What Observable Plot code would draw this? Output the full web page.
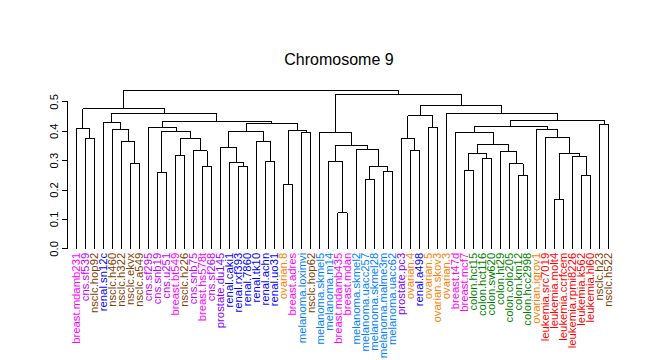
<!DOCTYPE html>
<html>
<head>
<meta charset="utf-8">
<script src="https://cdn.jsdelivr.net/npm/d3@7"></script>
<script src="https://cdn.jsdelivr.net/npm/@observablehq/plot@0.6"></script>
<style>
  html, body { margin: 0; padding: 0; background: #fff; }
  #wrap { position: relative; width: 647px; height: 360px; font-family: "Liberation Sans", Arial, sans-serif; }
  #title { position: absolute; left: 0; width: 678px; top: 51px; text-align: center; font-size: 16px; color: #000; line-height: 18px; }
  svg path, svg line { shape-rendering: crispEdges; }
</style>
</head>
<body>
<div id="wrap"><div id="title">Chromosome 9</div></div>
<script>
// Leaf labels in dendrogram order
const leaves = [
  "breast.mdamb231","cns.sf539","nsclc.hop92","renal.sn12c","nsclc.h460","nsclc.h322",
  "nsclc.ekvx","nsclc.a549","cns.sf295","cns.snb19","cns.u251","breast.bt549",
  "nsclc.h226","cns.snb75","breast.hs578t","cns.sf268","prostate.du145","renal.caki1",
  "renal.rxf393","renal.7860","renal.tk10","renal.achn","renal.uo31","ovarian.8",
  "breast.adres","melanoma.loximvi","nsclc.hop62","melanoma.skmel5","melanoma.m14","breast.mdamb435",
  "breast.mdan","melanoma.skmel2","melanoma.uacc257","melanoma.skmel28","melanoma.malme3m","melanoma.uacc62",
  "prostate.pc3","ovarian.4","renal.a498","ovarian.5","ovarian.skov3","ovarian.3",
  "breast.t47d","breast.mcf7","colon.hct15","colon.hct116","colon.sw620","colon.ht29",
  "colon.colo205","colon.km12","colon.hcc2998","ovarian.igrov1","leukemia.src7019","leukemia.molt4",
  "leukemia.ccrfcem","leukemia.rpmi8226","leukemia.k562","leukemia.hl60","nsclc.h23","nsclc.h522"
];

const groupNames  = ["breast","cns","nsclc","renal","prostate","ovarian","melanoma","colon","leukemia"];
const groupColors = ["#FF00FF","#BF00FF","#804000","#0000FF","#8000FF","#FF8000","#0080FF","#008000","#FF0000"];

// hclust-style merges: negative = leaf (1-based order), positive = earlier merge row
const mergeLeft  = [-2,-1,-7,-6,-5,-4,-10,-12,-15,-14,8,7,-9,-19,-18,-17,-22,-21,16,-24,-26,20,19,13,6,2,
                    -30,-29,-33,-35,29,-32,28,-28,-38,-37,-40,36,-44,-46,39,-50,-49,-48,41,-43,-54,-57,-56,47,-53,-52,46,-59,53,-42,38,34,26];
const mergeRight = [-3,1,-8,3,4,5,-11,-13,-16,9,10,11,12,-20,14,15,-23,17,18,-25,-27,21,22,23,24,25,
                    -31,27,-34,-36,30,31,32,33,-39,35,-41,37,-45,-47,40,-51,42,43,44,45,-55,-58,48,49,50,51,52,-60,54,55,56,57,58];
const mergeHeight = [0.374,0.410,0.289,0.364,0.407,0.429,0.259,0.316,0.279,0.333,0.374,0.400,0.412,0.280,0.295,0.343,0.297,0.365,0.399,0.218,0.395,0.401,0.425,0.432,0.459,0.476,
                    0.122,0.297,0.235,0.262,0.279,0.337,0.350,0.397,0.333,0.374,0.414,0.452,0.265,0.306,0.323,0.248,0.289,0.330,0.354,0.395,0.167,0.248,0.315,0.323,0.380,0.407,0.416,0.422,0.435,0.459,0.486,0.524,0.539];

const yTicks = [0.0, 0.1, 0.2, 0.3, 0.4, 0.5];

// Build dendrogram paths (data space: x = leaf position, y = height)
const leafData = leaves.map((name, i) => ({name, pos: i + 1, group: name.split(".")[0]}));
const nodeX = [], nodeY = [];
const pathPts = [];
function child(c) {
  return c < 0 ? {x: -c, y: 0} : {x: nodeX[c - 1], y: nodeY[c - 1]};
}
mergeHeight.forEach((h, k) => {
  const a = child(mergeLeft[k]), b = child(mergeRight[k]);
  nodeX.push((a.x + b.x) / 2);
  nodeY.push(h);
  pathPts.push({id: k, x: a.x, y: a.y}, {id: k, x: a.x, y: h}, {id: k, x: b.x, y: h}, {id: k, x: b.x, y: b.y});
});

const W = 647, H = 360;
const chart = Plot.plot({
  width: W,
  height: H,
  marginLeft: 75.7,
  marginRight: 38.7,
  marginTop: 101.3,
  marginBottom: 111.7,
  style: {fontFamily: "'Liberation Sans', Arial, sans-serif", background: "white", overflow: "visible"},
  x: {domain: [1, leaves.length], axis: null},
  y: {domain: [0, 0.5], axis: null},
  color: {domain: groupNames, range: groupColors},
  marks: [
    Plot.frame({anchor: "left", dx: -9, stroke: "#000"}),
    Plot.axisY({ticks: yTicks, tickFormat: d3.format(".1f"), tickSize: 5, dx: -9, tickRotate: -90,
                fontSize: 11.3, tickPadding: 4, label: null, stroke: "#000", fill: "#000"}),
    Plot.line(pathPts, {x: "x", y: "y", z: "id", stroke: "#000", strokeWidth: 1, curve: "linear"}),
    Plot.text(leafData, {x: "pos", y: () => 0, text: "name", fill: "group", rotate: -90,
                         textAnchor: "end", lineAnchor: "middle", dy: 4, fontSize: 11.3})
  ]
});
document.getElementById("wrap").prepend(chart);
chart.style.position = "absolute";
chart.style.left = "0";
chart.style.top = "0";
</script>
</body>
</html>
